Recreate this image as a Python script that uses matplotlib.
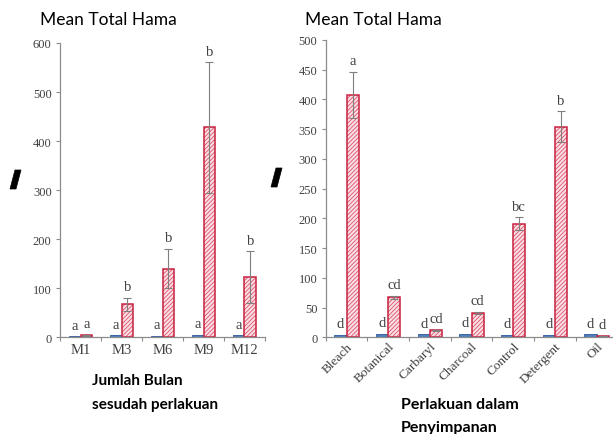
import matplotlib
matplotlib.use("Agg")
import matplotlib.pyplot as plt
import numpy as np
from matplotlib.patches import Polygon

# ---- data: months after treatment ----
months = ["M1", "M3", "M6", "M9", "M12"]
months_blue = [2, 4, 3, 5, 4]
months_red = [4, 67, 140, 428, 122]
months_red_err = [1, 13, 40, 133, 53]
months_blue_letters = ["a", "a", "a", "a", "a"]
months_red_letters = ["a", "b", "b", "b", "b"]
months_yticks = [0, 100, 200, 300, 400, 500, 600]

# ---- data: storage treatments ----
treatments = ["Bleach", "Botanical", "Carbaryl", "Charcoal", "Control", "Detergent", "Oil"]
treat_blue = [4, 6, 5, 6, 4, 4, 5]
treat_red = [408, 67, 12, 41, 191, 354, 3]
treat_red_err = [39, 3, 1, 2, 11, 26, 0]
treat_blue_letters = ["d", "d", "d", "d", "d", "d", "d"]
treat_red_letters = ["a", "cd", "cd", "cd", "bc", "b", "d"]
treat_yticks = [0, 50, 100, 150, 200, 250, 300, 350, 400, 450, 500]

BLUE = "#4F81BD"
BLUE_EDGE = "#2F5597"
RED_FACE = "#FAE0E4"
RED_HATCH = "#E0506C"
RED_EDGE = "#C8203F"
AXIS_GRAY = "#8C8C8C"
TICK_TXT = "#404040"
W = 0.29

plt.rcParams["hatch.linewidth"] = 0.6
serif = ["Liberation Serif", "DejaVu Serif"]
sans = ["Lato", "Open Sans", "DejaVu Sans"]

fig = plt.figure(figsize=(6.13, 4.35), dpi=100)
FW, FH = 613, 435


def axes_px(x0, y_top, x1, y_bottom):
    return fig.add_axes([x0 / FW, 1 - y_bottom / FH, (x1 - x0) / FW, (y_bottom - y_top) / FH])


def draw_panel(ax, cats, blue, red, red_err, bl, rl, yticks, ymax, rotate):
    x = np.arange(len(cats))
    ax.bar(x - W / 2, blue, W, color=BLUE, edgecolor=BLUE_EDGE, linewidth=0.6, zorder=2)
    # hatched fill, then a solid outline on top
    ax.bar(x + W / 2, red, W, color=RED_FACE, edgecolor=RED_HATCH, hatch="////////",
           linewidth=0, zorder=2)
    ax.bar(x + W / 2, red, W, fill=False, edgecolor=RED_EDGE, linewidth=1.1, zorder=2.5)
    ax.errorbar(x + W / 2, red, yerr=red_err, fmt="none", ecolor="#7F7F7F",
                elinewidth=0.8, capsize=3, capthick=0.8, zorder=3)
    for xi, v, t in zip(x, blue, bl):
        ax.annotate(t, (xi - W / 2, v), xytext=(0, 8), textcoords="offset points",
                    ha="center", va="center", fontsize=10.5, family=serif, color=TICK_TXT)
    for xi, v, e, t in zip(x, red, red_err, rl):
        ax.annotate(t, (xi + W / 2, v + e), xytext=(0, 8), textcoords="offset points",
                    ha="center", va="center", fontsize=10.5, family=serif, color=TICK_TXT)
    ax.set_xlim(-0.5, len(cats) - 0.5)
    ax.set_ylim(0, ymax)
    ax.set_yticks(yticks)
    ax.set_yticklabels([str(v) for v in yticks], family=serif, fontsize=9, color=TICK_TXT)
    ax.set_xticks(x)
    if rotate:
        ax.set_xticklabels(cats, family=serif, fontsize=9.5, color=TICK_TXT,
                           rotation=45, ha="right", rotation_mode="anchor")
    else:
        ax.set_xticklabels(cats, family=serif, fontsize=10.5, color=TICK_TXT)
    ax.tick_params(axis="x", length=0, pad=4)
    ax.set_xticks(np.arange(len(cats) + 1) - 0.5, minor=True)
    ax.tick_params(axis="x", which="minor", length=3, color=AXIS_GRAY, width=0.8)
    ax.tick_params(axis="y", length=3, color=AXIS_GRAY, width=0.8, pad=3)
    for s in ("top", "right"):
        ax.spines[s].set_visible(False)
    for s in ("left", "bottom"):
        ax.spines[s].set_color(AXIS_GRAY)
        ax.spines[s].set_linewidth(0.9)
    ax.patch.set_alpha(0)


ax1 = axes_px(60, 44, 265, 338.3)
draw_panel(ax1, months, months_blue, months_red, months_red_err,
           months_blue_letters, months_red_letters, months_yticks, 600, False)

ax2 = axes_px(325.7, 41, 617.4, 338.3)
draw_panel(ax2, treatments, treat_blue, treat_red, treat_red_err,
           treat_blue_letters, treat_red_letters, treat_yticks, 500, True)
ax2.tick_params(axis="x", pad=2)


def fig_text(px, py, s, **kw):
    fig.text(px / FW, 1 - py / FH, s, family=sans, color="black", va="center", ha="left", **kw)


fig_text(40, 20, "Mean Total Hama", fontsize=12.5)
fig_text(305, 20, "Mean Total Hama", fontsize=12.5)
fig_text(92, 381, "Jumlah Bulan", fontsize=11)
fig_text(92, 405, "sesudah perlakuan", fontsize=11)
fig_text(401, 405, "Perlakuan dalam", fontsize=11.5)
fig_text(401, 428, "Penyimpanan", fontsize=11.5)
for t in fig.texts[2:]:
    t.set_fontweight("bold")


# slanted tick marks beside each y axis
def slash(top_left, top_right, bottom_right, bottom_left):
    pts = [top_left, top_right, bottom_right, bottom_left]
    fig.patches.append(Polygon([(a / FW, 1 - b / FH) for a, b in pts], closed=True,
                               transform=fig.transFigure, facecolor="black",
                               edgecolor="black", linewidth=0.5))


slash((15, 171), (21, 171), (16, 190), (10, 190))
slash((276, 169), (282, 169), (277, 188), (271, 188))

fig.savefig("out.png", dpi=100, facecolor="white")
